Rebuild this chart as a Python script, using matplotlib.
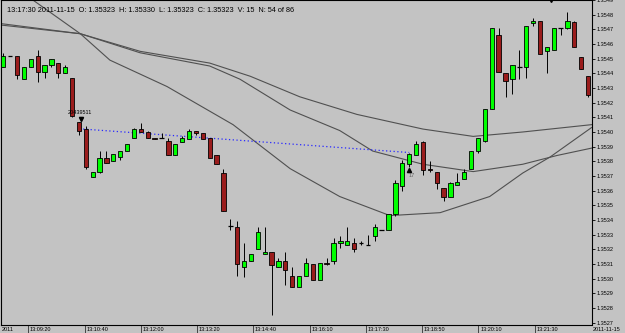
import numpy as np
import matplotlib
matplotlib.use("Agg")
import matplotlib.pyplot as plt
import matplotlib.transforms as mtransforms

plt.rcParams['font.family'] = ['Liberation Sans', 'DejaVu Sans']

# OHLC of the 86 bars
opens = [1.35444, 1.35452, 1.35452, 1.35436, 1.35444, 1.35452, 1.35441, 1.35446, 1.35447, 1.35440,
         1.35437, 1.35407, 1.35402, 1.35369, 1.35373, 1.35382, 1.35380, 1.35383, 1.35387, 1.35396,
         1.35402, 1.35400, 1.35396, 1.35396, 1.35394, 1.35384, 1.35393, 1.35395, 1.35401, 1.35399,
         1.35396, 1.35384, 1.35372, 1.35336, 1.35335, 1.35308, 1.35312, 1.35320, 1.35317, 1.35318,
         1.35308, 1.35312, 1.35302, 1.35294, 1.35302, 1.35310, 1.35299, 1.35311, 1.35312, 1.35324,
         1.35323, 1.35324, 1.35324, 1.35323, 1.35329, 1.35333, 1.35333, 1.35344, 1.35363, 1.35378,
         1.35384, 1.35393, 1.35375, 1.35373, 1.35362, 1.35356, 1.35364, 1.35368, 1.35375, 1.35387,
         1.35394, 1.35416, 1.35466, 1.35440, 1.35436, 1.35444, 1.35444, 1.35474, 1.35476, 1.35455,
         1.35456, 1.35471, 1.35471, 1.35475, 1.35451, 1.35438]
highs = [1.35454, 1.35452, 1.35452, 1.35444, 1.35450, 1.35456, 1.35446, 1.35450, 1.35447, 1.35446,
         1.35437, 1.35407, 1.35404, 1.35373, 1.35387, 1.35387, 1.35385, 1.35387, 1.35392, 1.35403,
         1.35406, 1.35401, 1.35396, 1.35399, 1.35396, 1.35392, 1.35397, 1.35402, 1.35401, 1.35399,
         1.35396, 1.35384, 1.35375, 1.35341, 1.35339, 1.35324, 1.35317, 1.35335, 1.35335, 1.35318,
         1.35314, 1.35318, 1.35308, 1.35302, 1.35314, 1.35310, 1.35311, 1.35314, 1.35328, 1.35329,
         1.35335, 1.35328, 1.35326, 1.35330, 1.35337, 1.35333, 1.35344, 1.35367, 1.35381, 1.35386,
         1.35394, 1.35394, 1.35380, 1.35373, 1.35362, 1.35366, 1.35372, 1.35375, 1.35387, 1.35396,
         1.35416, 1.35471, 1.35471, 1.35440, 1.35446, 1.35456, 1.35472, 1.35478, 1.35476, 1.35458,
         1.35471, 1.35471, 1.35482, 1.35476, 1.35451, 1.35438]
lows = [1.35444, 1.35452, 1.35436, 1.35436, 1.35444, 1.35434, 1.35437, 1.35444, 1.35437, 1.35440,
        1.35410, 1.35398, 1.35375, 1.35369, 1.35372, 1.35379, 1.35380, 1.35381, 1.35387, 1.35396,
        1.35400, 1.35396, 1.35395, 1.35396, 1.35384, 1.35384, 1.35393, 1.35395, 1.35398, 1.35395,
        1.35382, 1.35378, 1.35346, 1.35333, 1.35302, 1.35301, 1.35312, 1.35320, 1.35317, 1.35275,
        1.35308, 1.35296, 1.35294, 1.35294, 1.35302, 1.35299, 1.35299, 1.35309, 1.35310, 1.35321,
        1.35323, 1.35318, 1.35323, 1.35323, 1.35326, 1.35333, 1.35333, 1.35343, 1.35360, 1.35376,
        1.35384, 1.35371, 1.35373, 1.35361, 1.35353, 1.35356, 1.35364, 1.35368, 1.35375, 1.35386,
        1.35393, 1.35416, 1.35441, 1.35424, 1.35426, 1.35436, 1.35437, 1.35472, 1.35453, 1.35440,
        1.35456, 1.35466, 1.35470, 1.35458, 1.35443, 1.35424]
closes = [1.35452, 1.35452, 1.35439, 1.35444, 1.35450, 1.35441, 1.35446, 1.35450, 1.35440, 1.35444,
          1.35411, 1.35401, 1.35376, 1.35373, 1.35382, 1.35379, 1.35385, 1.35387, 1.35392, 1.35402,
          1.35400, 1.35396, 1.35395, 1.35396, 1.35384, 1.35392, 1.35396, 1.35401, 1.35399, 1.35395,
          1.35382, 1.35378, 1.35346, 1.35336, 1.35310, 1.35312, 1.35317, 1.35332, 1.35318, 1.35309,
          1.35312, 1.35306, 1.35294, 1.35302, 1.35311, 1.35299, 1.35311, 1.35310, 1.35324, 1.35326,
          1.35326, 1.35320, 1.35324, 1.35323, 1.35335, 1.35333, 1.35344, 1.35365, 1.35379, 1.35385,
          1.35392, 1.35374, 1.35374, 1.35365, 1.35356, 1.35365, 1.35366, 1.35373, 1.35387, 1.35396,
          1.35416, 1.35471, 1.35441, 1.35435, 1.35446, 1.35444, 1.35472, 1.35476, 1.35453, 1.35458,
          1.35471, 1.35471, 1.35476, 1.35458, 1.35443, 1.35425]

# moving average curves (bar index, price)
ma1_x = [-0.5, 11.2, 19.9, 30.0, 35.9, 43.1, 51.4, 61.0, 68.3, 75.5, 85.5]
ma1_y = [1.35474, 1.35467, 1.35455, 1.35447, 1.35438, 1.35424, 1.35412, 1.35402, 1.35397, 1.35400, 1.35405]
ma2_x = [-0.5, 11.2, 19.9, 30.0, 34.4, 41.7, 48.9, 53.7, 61.0, 68.3, 75.5, 80.5, 85.5]
ma2_y = [1.35473, 1.35467, 1.35454, 1.35445, 1.35436, 1.35415, 1.35401, 1.35387, 1.35378, 1.35373,
         1.35378, 1.35384, 1.35389]
ma3_x = [2.0, 4.3, 11.2, 15.5, 23.8, 33.4, 41.7, 48.9, 56.2, 63.5, 70.7, 75.5, 79.5, 85.5]
ma3_y = [1.35498, 1.35490, 1.35467, 1.35449, 1.35431, 1.35405, 1.35375, 1.35356, 1.35343, 1.35345,
         1.35356, 1.35372, 1.35383, 1.35403]

trend_x = [11.6, 59.0]
trend_y = [1.35402, 1.35386]

time_labels = ['13:09:20', '13:10:40', '13:12:00', '13:13:20', '13:14:40',
               '13:16:10', '13:17:30', '13:18:50', '13:20:10', '13:21:30']
header = '13:17:30 2011-11-15  O: 1.35323  H: 1.35330  L: 1.35323  C: 1.35323  V: 15  N: 54 of 86'

bg = '#C3C3C3'
up = '#00FF00'
down = '#9A1C1C'

fig = plt.figure(figsize=(6.25, 3.33), dpi=100, facecolor=bg)
ax = fig.add_axes([1 / 625, 8 / 333, 590.5 / 625, 325 / 333])
ax.set_facecolor(bg)

ax.plot(ma1_x, ma1_y, color='#505050', lw=0.8, zorder=1)
ax.plot(ma2_x, ma2_y, color='#505050', lw=0.8, zorder=1)
ax.plot(ma3_x, ma3_y, color='#505050', lw=0.8, zorder=1)
ax.plot(trend_x, trend_y, color='#2828FF', lw=0.9, ls=(0, (1, 2)), zorder=1)

for i in range(len(opens)):
    o, h, l, c = opens[i], highs[i], lows[i], closes[i]
    ax.vlines(i, l, h, color='black', lw=0.7, zorder=2)
    if o == c:
        ax.hlines(o, i - 0.34, i + 0.34, color='black', lw=0.9, zorder=3)
    else:
        ax.bar(i, abs(c - o), bottom=min(o, c), width=0.62,
               color=up if c > o else down, edgecolor='black', lw=0.6, zorder=3)

# markers
ax.plot(11.3, 1.35409, marker='v', color='black', ms=3, zorder=4)
ax.text(11.2, 1.35413, '20439511', fontsize=4, ha='center', va='center', zorder=4)
ax.plot(59.0, 1.35374, marker='^', color='black', ms=3, zorder=4)
ax.text(59.3, 1.35370, '17', fontsize=4, color='#606060', ha='center', va='center', zorder=4)
ax.plot(79.6, 1.35491, marker='v', color='black', ms=4, zorder=4)

ax.set_xlim(-0.33, 85.5)
ax.set_ylim(1.352684, 1.35490)

ax.yaxis.tick_right()
ax.set_yticks(np.round(np.arange(1.3527, 1.35495, 0.0001), 4))
ax.yaxis.set_major_formatter(matplotlib.ticker.FormatStrFormatter('%.4f'))
ax.tick_params(axis='y', direction='out', length=2.2, width=0.6, pad=1.5, labelsize=4)

tick_pos = [3.63 + 8.18 * k for k in range(len(time_labels))]
ax.set_xticks(tick_pos)
ax.tick_params(axis='x', direction='out', length=6, width=0.6, color='#303030', labelbottom=False)
trans = mtransforms.blended_transform_factory(ax.transData, ax.transAxes)
for p, lab in zip(tick_pos, time_labels):
    ax.text(p + 0.25, -0.0135, lab, transform=trans, fontsize=4, ha='left', va='center')
fig.text(2 / 625, 3.5 / 333, '2011', fontsize=4, ha='left', va='center')
fig.text(593 / 625, 3.5 / 333, '2011-11-15', fontsize=4, ha='left', va='center')

for s in ax.spines.values():
    s.set_color('black')
    s.set_linewidth(0.8)

ax.text(0.011, 0.969, header, transform=ax.transAxes, fontsize=5.35, ha='left', va='center')

fig.savefig('out.png', dpi=100, facecolor=bg)
